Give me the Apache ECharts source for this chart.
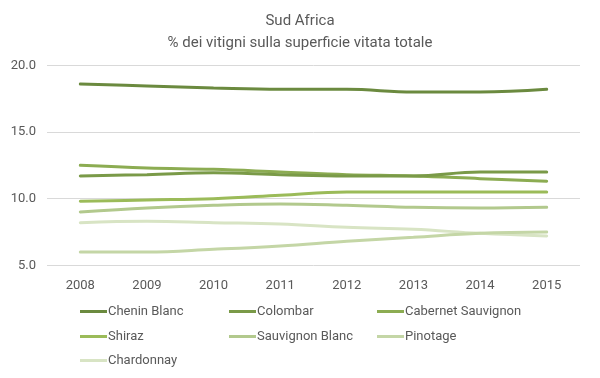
<!DOCTYPE html>
<html>
<head>
<meta charset="utf-8">
<script src="https://cdn.jsdelivr.net/npm/echarts@6/dist/echarts.min.js"></script>
<style>
html,body{margin:0;padding:0;background:#fff;}
#chart{width:600px;height:378px;}
</style>
</head>
<body>
<div id="chart"></div>
<script>
const years = ['2008','2009','2010','2011','2012','2013','2014','2015'];
const seriesNames = ['Chenin Blanc','Colombar','Cabernet Sauvignon','Shiraz','Sauvignon Blanc','Pinotage','Chardonnay'];
const cheninBlanc = [18.6, 18.45, 18.3, 18.2, 18.2, 18.0, 18.0, 18.2];
const colombar = [11.7, 11.8, 11.95, 11.8, 11.7, 11.7, 12.0, 12.0];
const cabernetSauvignon = [12.5, 12.3, 12.2, 12.0, 11.8, 11.7, 11.5, 11.3];
const shiraz = [9.8, 9.9, 10.0, 10.25, 10.5, 10.5, 10.5, 10.5];
const sauvignonBlanc = [9.0, 9.3, 9.5, 9.6, 9.5, 9.35, 9.3, 9.35];
const pinotage = [6.0, 6.0, 6.2, 6.45, 6.8, 7.1, 7.4, 7.5];
const chardonnay = [8.2, 8.3, 8.2, 8.1, 7.85, 7.7, 7.4, 7.2];
const yTicks = [5, 10, 15, 20];

const values = [cheninBlanc, colombar, cabernetSauvignon, shiraz, sauvignonBlanc, pinotage, chardonnay];
const colors = ['#6b8a3f','#7a9a48','#8cac52','#9bbb59','#b2c98d','#c4d6a6','#d8e4c4'];
const font = 'Roboto';
const legendPos = [
  [80,305],[229,305],[377,305],
  [80,330],[229,330],[377,330],
  [80,354]
];

const chart = echarts.init(document.getElementById('chart'), null, {renderer:'canvas'});
chart.setOption({
  animation:false,
  color: colors,
  title:{
    text:'Sud Africa\n% dei vitigni sulla superficie vitata totale',
    left:'center', top:5,
    textStyle:{fontFamily:font, fontSize:15, fontWeight:'normal', color:'#595959', lineHeight:22}
  },
  legend: seriesNames.map((n,i)=>({
    data:[n], left:legendPos[i][0], top:legendPos[i][1], padding:0,
    icon:'rect', itemWidth:27, itemHeight:3,
    textStyle:{fontFamily:font, fontSize:13, color:'#595959', padding:[0,0,0,-4]}
  })),
  grid:{left:47, right:20, top:65.3, bottom:112.7},
  xAxis:{
    type:'category', data:years, boundaryGap:true,
    axisLine:{show:false}, axisTick:{show:false},
    axisLabel:{fontFamily:font, fontSize:13, color:'#595959', margin:14}
  },
  yAxis:{
    type:'value', min:yTicks[0], max:yTicks[yTicks.length-1], interval:5,
    axisLabel:{fontFamily:font, fontSize:13, color:'#595959', margin:11, formatter:v=>v.toFixed(1)},
    splitLine:{lineStyle:{color:'#d9d9d9', width:1}}
  },
  series: seriesNames.map((n,i)=>({
    name:n, type:'line', data:values[i], smooth:0.4, symbol:'none',
    lineStyle:{width:3, color:colors[i], cap:'round'},
    itemStyle:{color:colors[i]}, z: 10-i
  }))
});
</script>
</body>
</html>
